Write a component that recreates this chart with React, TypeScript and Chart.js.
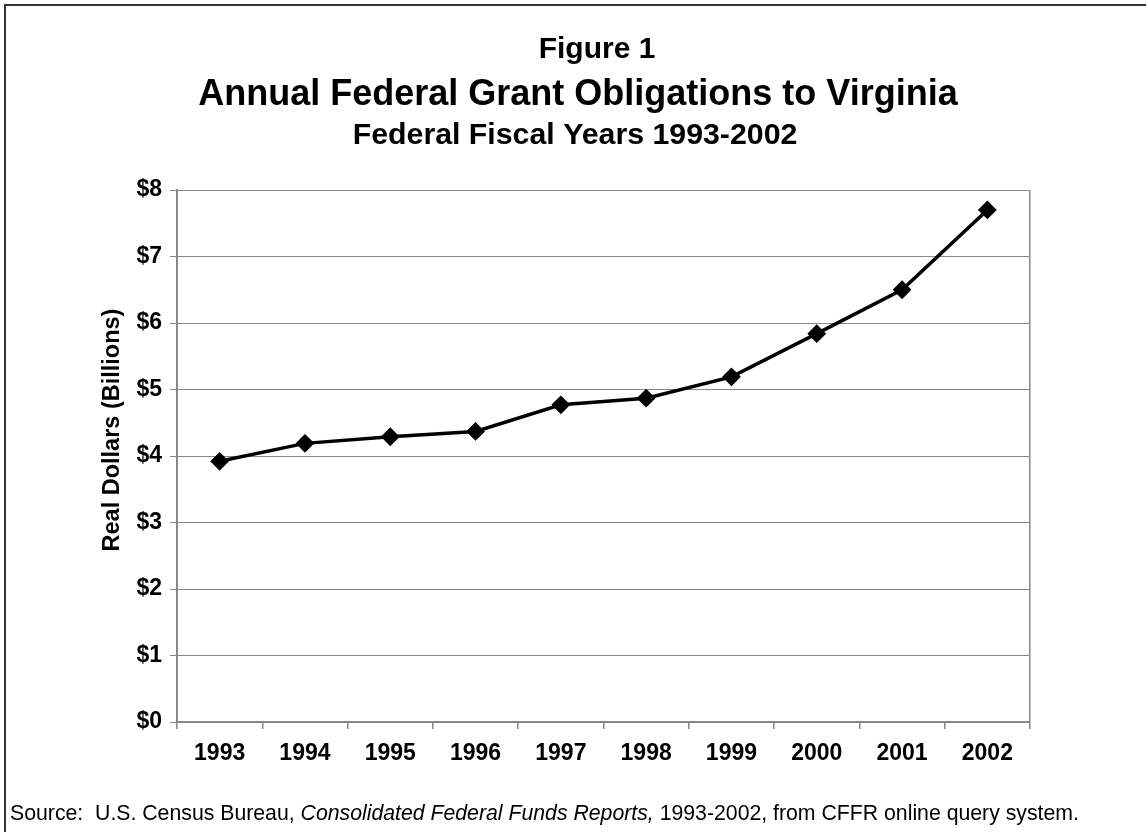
import React, { useEffect, useRef } from 'react';
import { Chart, registerables } from 'chart.js';

Chart.register(...registerables);

const years = ['1993', '1994', '1995', '1996', '1997', '1998', '1999', '2000', '2001', '2002'];
const grants = [3.92, 4.19, 4.29, 4.37, 4.77, 4.87, 5.19, 5.84, 6.5, 7.7];
const yMin = 0;
const yMax = 8;
const yStep = 1;

const figureLabel = 'Figure 1';
const titleText = 'Annual Federal Grant Obligations to Virginia';
const subtitleText = 'Federal Fiscal Years 1993-2002';
const yAxisTitle = 'Real Dollars (Billions)';
const sourceParts = [
  { text: 'Source:  U.S. Census Bureau, ', italic: false },
  { text: 'Consolidated Federal Funds Reports,', italic: true },
  { text: ' 1993-2002, from CFFR online query system.', italic: false },
];

const FONT = "'Liberation Sans', Arial, Helvetica, sans-serif";
const W = 1146;
const H = 832;

const textPlugin = {
  id: 'textPlugin',
  afterDraw(chart: any) {
    const ctx = chart.ctx as CanvasRenderingContext2D;
    ctx.save();
    ctx.fillStyle = '#000';
    ctx.textAlign = 'center';
    ctx.textBaseline = 'alphabetic';
    ctx.font = `bold 30px ${FONT}`;
    ctx.fillText(figureLabel, 597, 58);
    ctx.font = `bold 36px ${FONT}`;
    ctx.fillText(titleText, 578, 105);
    ctx.font = `bold 30.3px ${FONT}`;
    ctx.fillText(subtitleText, 575, 144);

    // y-axis title
    ctx.save();
    ctx.translate(113, 430);
    ctx.rotate(-Math.PI / 2);
    ctx.textBaseline = 'middle';
    ctx.font = `bold 23.5px ${FONT}`;
    ctx.fillText(yAxisTitle, 0, 0);
    ctx.restore();

    ctx.textAlign = 'left';
    let x = 10;
    for (const p of sourceParts) {
      ctx.font = `${p.italic ? 'italic ' : ''}21.25px ${FONT}`;
      ctx.fillText(p.text, x, 820);
      x += ctx.measureText(p.text).width;
    }
    ctx.restore();
  },
};

export default function App() {
  const ref = useRef<HTMLCanvasElement | null>(null);

  useEffect(() => {
    if (!ref.current) return;
    const chart = new Chart(ref.current, {
      type: 'line',
      data: {
        labels: years,
        datasets: [
          {
            data: grants,
            borderColor: '#000',
            borderWidth: 3.5,
            tension: 0,
            pointStyle: 'rectRot',
            pointRadius: 8,
            pointBackgroundColor: '#000',
            pointBorderColor: '#000',
            pointBorderWidth: 2,
          },
        ],
      },
      options: {
        responsive: false,
        animation: false,
        layout: { padding: { top: 190, right: 116, bottom: 0, left: 0 } },
        plugins: {
          legend: { display: false },
          tooltip: { enabled: false },
          title: { display: false },
        },
        scales: {
          x: {
            type: 'category',
            offset: true,
            grid: {
              offset: true,
              drawOnChartArea: true,
              color: (c: any) => (c.type === 'tick' ? 'rgba(0,0,0,0)' : '#888'),
              tickColor: '#888',
              tickLength: 7,
              lineWidth: 1.5,
            },
            border: { display: true, color: '#888', width: 1.5 },
            ticks: {
              color: '#000',
              font: { family: FONT, size: 23, weight: 'bold' },
              padding: 11,
              maxRotation: 0,
              autoSkip: false,
            },
            afterFit: (s: any) => {
              s.height = 110;
            },
          },
          y: {
            min: yMin,
            max: yMax,
            grid: { color: '#888', lineWidth: 1, tickLength: 7, tickColor: '#888' },
            border: { display: true, color: '#888', width: 2 },
            ticks: {
              stepSize: yStep,
              color: '#000',
              font: { family: FONT, size: 23, weight: 'bold' },
              padding: 8,
              callback: (v: any) => '$' + v,
            },
            title: { display: false },
            afterFit: (s: any) => {
              s.width = 177;
            },
          },
        },
      },
      plugins: [textPlugin],
    } as any);
    return () => chart.destroy();
  }, []);

  return (
    <div
      style={{
        position: 'fixed',
        left: 0,
        top: 0,
        width: W,
        height: H,
        overflow: 'hidden',
        background: '#fff',
      }}
    >
      <canvas ref={ref} width={W} height={H} style={{ width: W, height: H, display: 'block' }} />
      <div
        style={{
          position: 'absolute',
          left: 4,
          top: 4,
          width: 3000,
          height: 3000,
          borderLeft: '2px solid #333',
          borderTop: '2px solid #333',
          pointerEvents: 'none',
        }}
      />
    </div>
  );
}
